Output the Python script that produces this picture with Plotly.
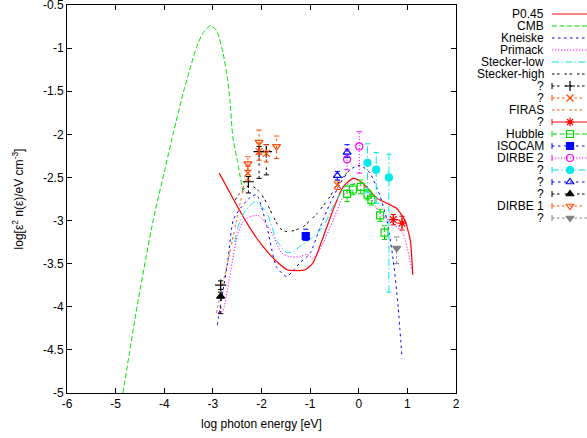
import plotly.graph_objects as go

# ---------------- axis ticks ----------------
x_ticks = [-6, -5, -4, -3, -2, -1, 0, 1, 2]
x_tick_labels = ["-6", "-5", "-4", "-3", "-2", "-1", "0", "1", "2"]
y_ticks = [-5, -4.5, -4, -3.5, -3, -2.5, -2, -1.5, -1, -0.5]
y_tick_labels = ["-5", "-4.5", "-4", "-3.5", "-3", "-2.5", "-2", "-1.5", "-1", "-0.5"]

# ---------------- model curves: log photon energy [eV] vs log[eps^2 n(eps)] ----------------
cmb_x = [-4.85, -4.56, -4.23, -4.0, -3.82, -3.6, -3.45, -3.33, -3.2, -3.05, -2.92, -2.79, -2.7, -2.65, -2.59, -2.5, -2.37]
cmb_y = [-5.0, -4.0, -3.0, -2.44, -2.0, -1.5, -1.2, -0.98, -0.82, -0.74, -0.8, -1.06, -1.35, -1.6, -2.03, -2.3, -2.7]

p045_x = [-2.87, -2.6, -2.3, -2.0, -1.66, -1.47, -1.3, -1.1, -0.94, -0.73, -0.53, -0.32, -0.11, 0.09, 0.37, 0.58, 0.78, 0.95, 1.06, 1.11]
p045_y = [-2.45, -2.73, -3.03, -3.28, -3.49, -3.57, -3.58, -3.57, -3.49, -3.19, -2.88, -2.61, -2.51, -2.57, -2.74, -2.8, -2.86, -3.0, -3.23, -3.63]

kneiske_x = [-2.91, -2.8, -2.69, -2.58, -2.41, -2.25, -2.1, -1.89, -1.69, -1.48, -1.35, -1.21, -1.0, -0.79, -0.59, -0.38, -0.18, 0.03, 0.23, 0.44, 0.58, 0.71, 0.81, 0.89]
kneiske_y = [-4.21, -3.84, -3.46, -2.99, -2.84, -2.74, -2.7, -3.07, -3.54, -3.65, -3.58, -3.49, -3.38, -3.07, -2.8, -2.57, -2.41, -2.36, -2.45, -2.72, -3.0, -3.46, -4.0, -4.6]

primack_x = [-2.89, -2.8, -2.7, -2.6, -2.5, -2.4, -2.25, -2.07, -1.82, -1.58, -1.41, -1.21, -1.07, -0.94, -0.73, -0.53, -0.32, -0.11, 0.09, 0.44, 0.7, 0.91, 1.09]
primack_y = [-4.07, -4.05, -3.8, -3.48, -3.18, -3.03, -2.96, -2.94, -3.11, -3.38, -3.42, -3.42, -3.39, -3.44, -3.26, -3.0, -2.72, -2.57, -2.59, -2.92, -3.03, -3.15, -3.57]

stlow_x = [-2.55, -2.48, -2.35, -2.23, -2.13, -1.89, -1.69, -1.48, -1.35, -1.21, -0.94, -0.73, -0.53, -0.3, -0.1]
stlow_y = [-3.25, -3.07, -2.9, -2.82, -2.78, -2.91, -3.23, -3.37, -3.36, -3.3, -3.19, -3.07, -2.84, -2.62, -2.52]

sthigh_x = [-2.54, -2.4, -2.23, -2.05, -1.89, -1.62, -1.47, -1.3, -1.14, -0.86, -0.59, -0.38, -0.2]
sthigh_y = [-2.76, -2.65, -2.59, -2.66, -2.8, -3.09, -3.13, -3.11, -3.07, -2.92, -2.72, -2.53, -2.42]

firas_x = [-2.93, -2.75, -2.55, -2.3]
firas_y = [-4.07, -3.62, -3.1, -2.42]

# ---------------- measurements: x, y, lower error, upper error ----------------
plus_x = [-2.84, -2.27, -2.05, -1.9]
plus_y = [-3.75, -2.55, -2.2, -2.2]
plus_lo = [0.05, 0.13, 0.31, 0.27]
plus_hi = [0.05, 0.06, 0.06, 0.08]

xo_x = [-2.28, -2.05, -1.9, -0.44]
xo_y = [-2.45, -2.2, -2.22, -2.59]
xo_lo = [0.08, 0.1, 0.1, 0.05]
xo_hi = [0.08, 0.1, 0.1, 0.05]

star_x = [0.71, 0.89]
star_y = [-2.99, -3.03]
star_lo = [0.06, 0.08]
star_hi = [0.06, 0.08]

hubble_x = [-0.24, -0.12, 0.04, 0.18, 0.26, 0.44, 0.53]
hubble_y = [-2.69, -2.64, -2.61, -2.7, -2.76, -2.94, -3.14]
hubble_lo = [0.09, 0.06, 0.08, 0.06, 0.06, 0.07, 0.08]
hubble_hi = [0.09, 0.06, 0.08, 0.06, 0.06, 0.07, 0.08]

isocam_x = [-1.09]
isocam_y = [-3.18]
isocam_lo = [0.05]
isocam_hi = [0.08]

dirbe2_x = [-0.24, 0.01]
dirbe2_y = [-2.29, -2.14]
dirbe2_lo = [0.12, 0.31]
dirbe2_hi = [0.12, 0.17]

cyan_x = [0.18, 0.36, 0.62]
cyan_y = [-2.33, -2.41, -2.5]
cyan_lo = [0.35, 0.39, 1.33]
cyan_hi = [0.22, 0.2, 0.27]

btri_x = [-0.44, -0.24]
btri_y = [-2.48, -2.21]
btri_lo = [0.05, 0.06]
btri_hi = [0.05, 0.09]

ktri_x = [-2.84]
ktri_y = [-3.88]
ktri_lo = [0.2]
ktri_hi = [0.05]

dirbe1_x = [-2.28, -2.05, -1.69]
dirbe1_y = [-2.34, -2.09, -2.14]
dirbe1_lo = [0.08, 0.14, 0.14]
dirbe1_hi = [0.08, 0.14, 0.12]

grey_x = [0.78]
grey_y = [-3.32]
grey_lo = [0.18]
grey_hi = [0.13]

# ---------------- styles (gnuplot-like palette and dash patterns) ----------------
RED, GREEN, BLUE, MAG, CYAN = "#ff0000", "#00e000", "#0000ff", "#ff00ff", "#00e8e8"
BLACK, ORANGE, GREY = "#000000", "#ff4d00", "#808080"
SOLID = "solid"
LT1 = "5px,2.5px"
LT2 = "2.5px,3.5px"
LT3 = "1.2px,1.8px"
LT4 = "7px,2.5px,1.2px,2.5px"
LT6 = "2.5px,2.5px,2.5px,5px"
LT7 = "2.5px,2.5px,2.5px,2.5px,2.5px,5px"
LT8 = "2.5px,2.5px,2.5px,2.5px,2.5px,2.5px,2.5px,5px"

FONT = "Liberation Sans, Arial, Helvetica, sans-serif"

fig = go.Figure()

curves = [
    ("P0.45", p045_x, p045_y, RED, SOLID, 1.2),
    ("CMB", cmb_x, cmb_y, GREEN, LT1, 1.0),
    ("Kneiske", kneiske_x, kneiske_y, BLUE, LT2, 1.0),
    ("Primack", primack_x, primack_y, MAG, LT3, 1.0),
    ("Stecker-low", stlow_x, stlow_y, CYAN, LT4, 1.0),
    ("Stecker-high", sthigh_x, sthigh_y, BLACK, LT6, 1.0),
    ("FIRAS", firas_x, firas_y, ORANGE, LT7, 1.0),
]
for name, xs, ys, col, dash, w in curves:
    fig.add_trace(go.Scatter(x=xs, y=ys, mode="lines", name=name,
                             line=dict(color=col, dash=dash, width=w, shape="spline", smoothing=0.6),
                             xaxis="x", yaxis="y"))

points = [
    (plus_x, plus_y, plus_lo, plus_hi, BLACK, LT6, "cross-thin-open", 8),
    (xo_x, xo_y, xo_lo, xo_hi, ORANGE, LT7, "x-thin-open", 7),
    (star_x, star_y, star_lo, star_hi, RED, SOLID, "asterisk-open", 8),
    (hubble_x, hubble_y, hubble_lo, hubble_hi, GREEN, LT1, "square-open", 7),
    (isocam_x, isocam_y, isocam_lo, isocam_hi, BLUE, LT2, "square", 7),
    (dirbe2_x, dirbe2_y, dirbe2_lo, dirbe2_hi, MAG, LT3, "circle-open", 7),
    (cyan_x, cyan_y, cyan_lo, cyan_hi, CYAN, LT4, "circle", 7),
    (btri_x, btri_y, btri_lo, btri_hi, BLUE, LT2, "triangle-up-open", 7),
    (ktri_x, ktri_y, ktri_lo, ktri_hi, BLACK, LT6, "triangle-up", 7),
    (dirbe1_x, dirbe1_y, dirbe1_lo, dirbe1_hi, ORANGE, LT7, "triangle-down-open", 7),
    (grey_x, grey_y, grey_lo, grey_hi, GREY, LT8, "triangle-down", 7),
]
CAP = 0.055  # half width of error-bar caps in x units
for xs, ys, lo, hi, col, dash, sym, size in points:
    bx, by, cx, cy = [], [], [], []
    for x, y, l, h in zip(xs, ys, lo, hi):
        bx += [x, x, None]
        by += [y - l, y + h, None]
        for yy in (y - l, y + h):
            cx += [x - CAP, x + CAP, None]
            cy += [yy, yy, None]
    fig.add_trace(go.Scatter(x=bx, y=by, mode="lines",
                             line=dict(color=col, dash=dash, width=1)))
    fig.add_trace(go.Scatter(x=cx, y=cy, mode="lines",
                             line=dict(color=col, width=1)))
    fig.add_trace(go.Scatter(x=xs, y=ys, mode="markers",
                             marker=dict(symbol=sym, size=size, color=col,
                                         line=dict(color=col, width=1.2))))

# ---------------- key (gnuplot style: right-aligned labels, samples to the right) ----------------
key = [
    ("P0.45", RED, SOLID, None),
    ("CMB", GREEN, LT1, None),
    ("Kneiske", BLUE, LT2, None),
    ("Primack", MAG, LT3, None),
    ("Stecker-low", CYAN, LT4, None),
    ("Stecker-high", BLACK, LT6, None),
    ("?", BLACK, LT6, "cross-thin-open"),
    ("?", ORANGE, LT7, "x-thin-open"),
    ("FIRAS", ORANGE, LT7, None),
    ("?", RED, SOLID, "asterisk-open"),
    ("Hubble", GREEN, LT1, "square-open"),
    ("ISOCAM", BLUE, LT2, "square"),
    ("DIRBE 2", MAG, LT3, "circle-open"),
    ("?", CYAN, LT4, "circle"),
    ("?", BLUE, LT2, "triangle-up-open"),
    ("?", BLACK, LT6, "triangle-up"),
    ("DIRBE 1", ORANGE, LT7, "triangle-down-open"),
    ("?", GREY, LT8, "triangle-down"),
]
KEY_TOP, KEY_STEP = 14.0, 12.0
TEXT_R, LINE_L, LINE_R, MARK_X = 545, 552, 590, 570
annotations = []
for i, (label, col, dash, sym) in enumerate(key):
    ky = KEY_TOP + KEY_STEP * i
    annotations.append(dict(x=TEXT_R, y=ky, xref="x2", yref="y2", text=label, showarrow=False,
                            xanchor="right", yanchor="middle", borderpad=0,
                            font=dict(family=FONT, size=12, color="black")))
    fig.add_trace(go.Scatter(x=[LINE_L, LINE_R], y=[ky, ky], mode="lines",
                             line=dict(color=col, dash=dash, width=1), xaxis="x2", yaxis="y2",
                             hoverinfo="skip"))
    if sym is not None:
        fig.add_trace(go.Scatter(x=[LINE_L, LINE_L], y=[ky - 3, ky + 3], mode="lines",
                                 line=dict(color=col, width=1),
                                 xaxis="x2", yaxis="y2", hoverinfo="skip"))
        fig.add_trace(go.Scatter(x=[MARK_X], y=[ky], mode="markers",
                                 marker=dict(symbol=sym, size=7, color=col,
                                             line=dict(color=col, width=1.2)),
                                 xaxis="x2", yaxis="y2", hoverinfo="skip"))

W, H = 587, 438
ML, MT, MB = 67, 5, 45
plot_w = W - ML
main_frac = (456 - ML) / plot_w

axis_common = dict(showline=True, linecolor="black", linewidth=1, mirror="allticks",
                   ticks="inside", ticklen=5, tickwidth=1, tickcolor="black",
                   showgrid=False, zeroline=False, automargin=False,
                   ticklabeloverflow="allow", tickmode="array",
                   tickfont=dict(family=FONT, size=12, color="black"))

fig.update_layout(
    template="none",
    width=W, height=H,
    margin=dict(l=ML, r=0, t=MT, b=MB),
    paper_bgcolor="white", plot_bgcolor="white",
    showlegend=False,
    xaxis=dict(domain=[0, main_frac], range=[-6, 2],
               tickvals=x_ticks, ticktext=x_tick_labels,
               title=dict(text="log photon energy [eV]", standoff=9,
                          font=dict(family=FONT, size=12, color="black")),
               **axis_common),
    yaxis=dict(range=[-5, -0.5], tickvals=y_ticks, ticktext=y_tick_labels,
               title=dict(text="log[\u03b5<sup>2</sup> n(\u03b5)/eV cm<sup>-3</sup>]", standoff=16,
                          font=dict(family=FONT, size=12, color="black")),
               **axis_common),
    xaxis2=dict(domain=[main_frac + 0.002, 1], range=[ML + main_frac * plot_w + 1, W],
                visible=False, fixedrange=True, anchor="y2", automargin=False),
    yaxis2=dict(domain=[0, 1], range=[H - MB, MT], visible=False, fixedrange=True,
                anchor="x2", automargin=False),
    annotations=annotations,
)

fig.write_html("out.html")
